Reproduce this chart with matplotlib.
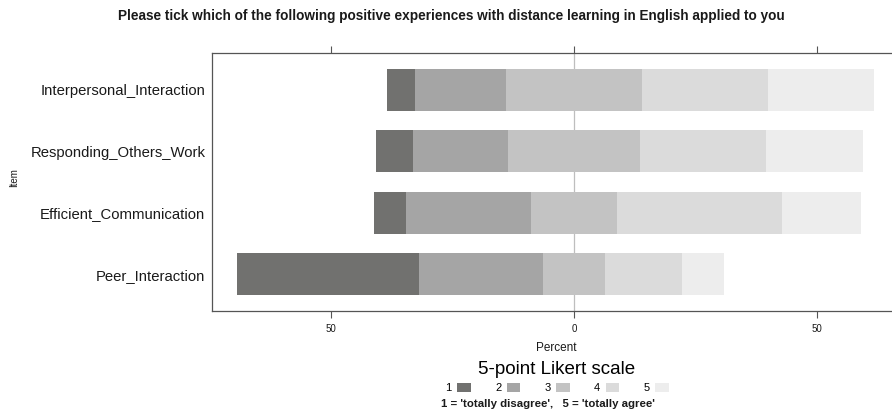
import matplotlib
matplotlib.use("Agg")
import matplotlib.pyplot as plt
from matplotlib.patches import Patch
import numpy as np

plt.rcParams['font.family'] = ['Liberation Sans', 'DejaVu Sans']

# Items, bottom to top
items = ["Peer_Interaction", "Efficient_Communication",
         "Responding_Others_Work", "Interpersonal_Interaction"]
levels = ["1", "2", "3", "4", "5"]

# Percent of respondents per Likert level for each item
pct_1 = [37.4, 6.7, 7.6, 5.7]
pct_2 = [25.4, 25.6, 19.5, 18.7]
pct_3 = [12.8, 17.6, 27.0, 27.9]
pct_4 = [15.8, 34.0, 26.0, 26.0]
pct_5 = [8.6, 16.1, 19.9, 21.7]

colors = ["#71716F", "#A5A5A5", "#C3C3C3", "#DBDBDB", "#EDEDED"]
xticks = [-50, 0, 50]

fig = plt.figure(figsize=(8.92, 4.15), dpi=100)
ax = fig.add_axes([0.238, 0.2506, 0.7715, 0.6224])

data = np.array([pct_1, pct_2, pct_3, pct_4, pct_5])
y = np.arange(len(items))
# diverging layout: neutral level centred on zero
left = -(data[0] + data[1] + data[2] / 2)
for k in range(len(levels)):
    ax.barh(y, data[k], left=left, height=0.68, color=colors[k],
            edgecolor='none', zorder=2, label=levels[k])
    left = left + data[k]

ax.axvline(0, color='#BEBEBE', lw=0.9, zorder=1)
ax.set_xlim(-74.3, 67.1)
ax.set_ylim(-0.6, 3.6)

ax.set_yticks(y, items, fontsize=10.7, color='#1a1a1a')
ax.tick_params(axis='y', length=0, pad=5)
ax.set_xticks(xticks, [str(abs(t)) for t in xticks])
ax.tick_params(axis='x', top=True, bottom=True, direction='out', length=5,
               width=0.8, color='#555555', labelsize=7, pad=4,
               labelcolor='#1a1a1a')
for s in ax.spines.values():
    s.set_color('#555555')
    s.set_linewidth(0.9)

fig.text(0.5061, 1 - 16 / 415,
         "Please tick which of the following positive experiences with "
         "distance learning in English applied to you",
         ha='center', va='center', fontsize=9.8, weight='bold', color='#1a1a1a')
fig.text(556 / 892, 1 - 348 / 415, "Percent", ha='center', va='center',
         fontsize=8.5, color='#1a1a1a')
fig.text(14 / 892, 1 - 178 / 415, "Item", ha='center', va='center',
         rotation=90, fontsize=7, color='#1a1a1a')

handles = [Patch(facecolor=c, edgecolor='none') for c in colors]
leg = fig.legend(handles, levels, ncol=5, loc='center',
                 bbox_to_anchor=(557 / 892, 1 - 377 / 415),
                 title="5-point Likert scale", title_fontsize=13.5, fontsize=8,
                 markerfirst=False, frameon=False, handlelength=1.2,
                 handleheight=0.9, columnspacing=2.2, handletextpad=0.5,
                 borderpad=0, labelspacing=0.45)
fig.text(548 / 892, 1 - 404 / 415,
         "1 = 'totally disagree',   5 = 'totally agree'",
         ha='center', va='center', fontsize=8.2, weight='bold', color='#1a1a1a')

fig.savefig("out.png", dpi=100)
